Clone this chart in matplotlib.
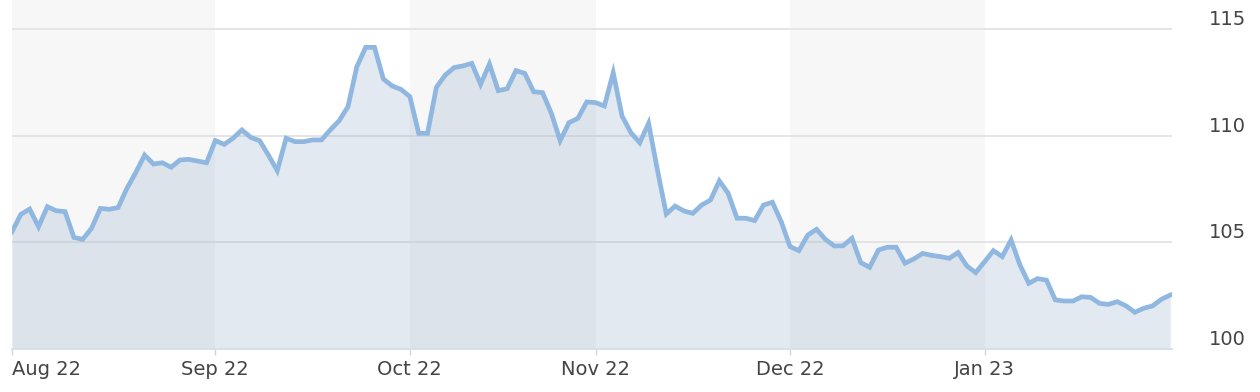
import matplotlib.pyplot as plt
import numpy as np
import pandas as pd

# business days, Aug 1 2022 .. Jan 31 2023
dates = pd.bdate_range('2022-08-01', '2023-01-31')

values = [
    105.50, 106.31, 106.56, 105.73, 106.67, 106.48, 106.44, 105.23, 105.14, 105.66,
    106.59, 106.55, 106.63, 107.53, 108.27, 109.09, 108.67, 108.73, 108.52, 108.86,
    108.89, 108.81, 108.73, 109.77, 109.59, 109.88, 110.27, 109.92, 109.77, 109.09,
    108.36, 109.88, 109.72, 109.72, 109.80, 109.80, 110.27, 110.70, 111.36, 113.23,
    114.14, 114.14, 112.66, 112.33, 112.17, 111.83, 110.11, 110.11, 112.27, 112.84,
    113.19, 113.27, 113.39, 112.41, 113.36, 112.11, 112.20, 113.05, 112.92, 112.06,
    112.02, 111.05, 109.77, 110.61, 110.81, 111.58, 111.55, 111.39, 112.95, 110.92,
    110.14, 109.67, 110.58, 108.39, 106.33, 106.70, 106.47, 106.36, 106.75, 106.98,
    107.88, 107.30, 106.13, 106.13, 106.02, 106.75, 106.88, 105.97, 104.80, 104.61,
    105.34, 105.61, 105.14, 104.83, 104.84, 105.19, 104.05, 103.83, 104.64, 104.77,
    104.77, 104.02, 104.22, 104.48, 104.39, 104.33, 104.25, 104.52, 103.89, 103.58,
    104.09, 104.61, 104.33, 105.11, 103.94, 103.08, 103.30, 103.23, 102.30, 102.25,
    102.25, 102.45, 102.42, 102.14, 102.09, 102.22, 102.02, 101.72, 101.91, 102.02,
    102.33, 102.53,
]

y_ticks = [100, 105, 110, 115]

x = np.arange(len(dates))
months = dates.to_period('M')
month_starts = [i for i in range(len(dates)) if i == 0 or months[i] != months[i - 1]]
month_labels = [dates[i].strftime('%b %y') for i in month_starts]

plt.rcParams['font.family'] = ['DejaVu Sans']

fig = plt.figure(figsize=(12.6, 3.92), dpi=100)
ax = fig.add_axes([12 / 1260, 43 / 392, 1160 / 1260, 349 / 392])

# alternating month bands
edges = month_starts + [x[-1]]
for k in range(0, len(month_starts), 2):
    ax.axvspan(edges[k], edges[k + 1], color='#f7f7f7', lw=0, zorder=0)

for yv in y_ticks[1:]:
    ax.axhline(yv, color='#e3e3e3', lw=1.3, zorder=1)

ax.fill_between(x, values, 100, color=(147 / 255, 171 / 255, 203 / 255), alpha=0.25, lw=0, zorder=2)
ax.plot(x, values, color='#8fb7e0', lw=3.4, solid_joinstyle='miter', zorder=3)

ax.set_xlim(0, x[-1] + 0.2)
ax.set_ylim(100, 116.36)

ax.set_xticks(month_starts)
ax.set_xticklabels(month_labels)
ax.tick_params(axis='x', length=4, width=1, color='#ccd6eb', pad=4,
               labelsize=14, labelcolor='#444444')
xl = ax.get_xticklabels()
xl[0].set_ha('left')

ax.yaxis.tick_right()
ax.set_yticks(y_ticks)
ax.tick_params(axis='y', length=0, pad=26.5, labelsize=14, labelcolor='#444444')
plt.setp(ax.get_yticklabels(), va='bottom')

for s in ['top', 'left', 'right']:
    ax.spines[s].set_visible(False)
ax.spines['bottom'].set_color('#d8dde5')
ax.spines['bottom'].set_linewidth(1.2)

fig.savefig('out.png', dpi=100)
